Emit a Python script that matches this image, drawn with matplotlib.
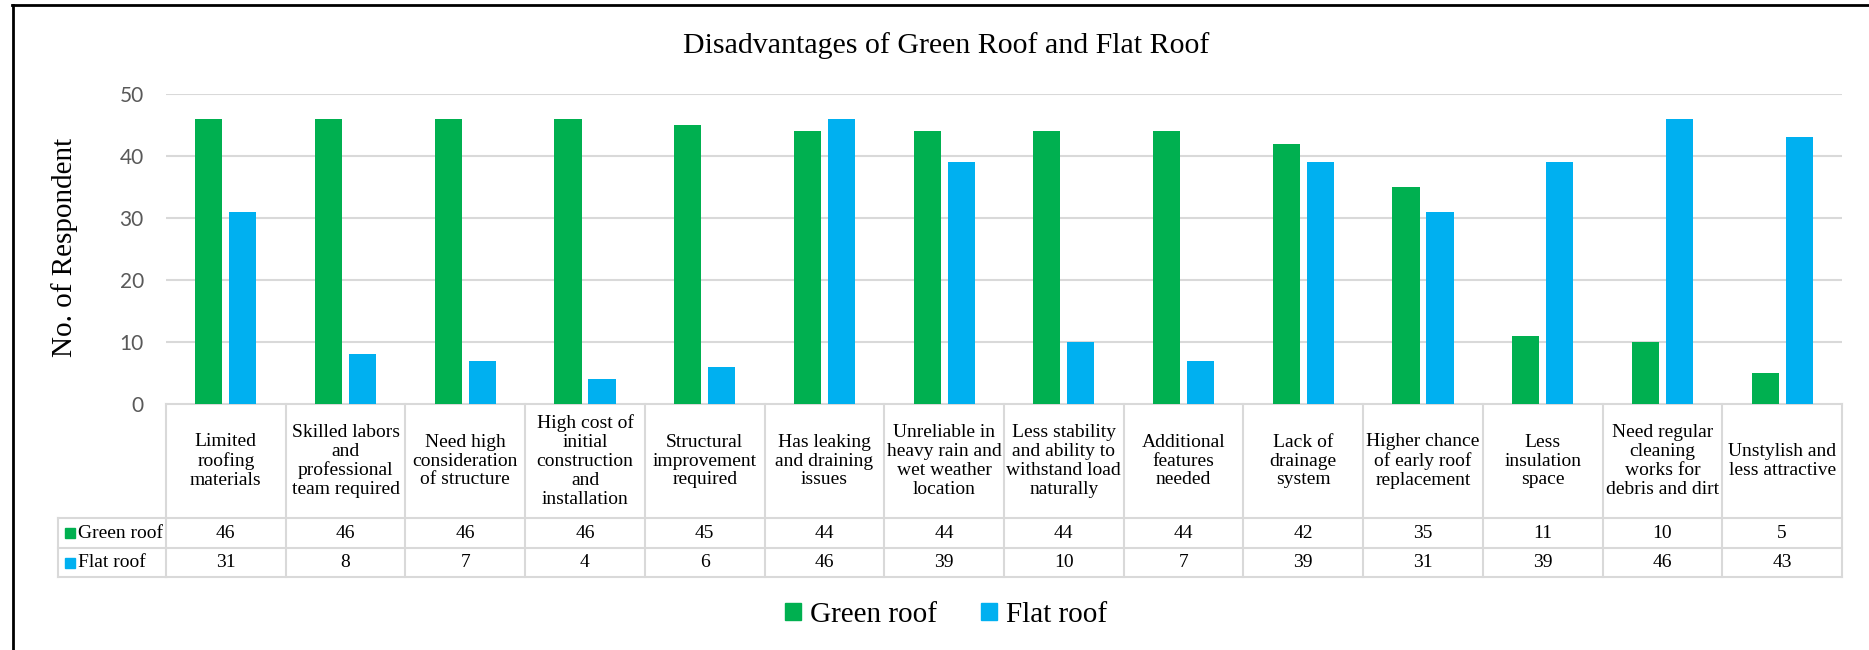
import numpy as np
import matplotlib.pyplot as plt
from matplotlib.lines import Line2D
from matplotlib.patches import Patch
from matplotlib.transforms import blended_transform_factory

categories = [
    "Limited\nroofing\nmaterials",
    "Skilled labors\nand\nprofessional\nteam required",
    "Need high\nconsideration\nof structure",
    "High cost of\ninitial\nconstruction\nand\ninstallation",
    "Structural\nimprovement\nrequired",
    "Has leaking\nand draining\nissues",
    "Unreliable in\nheavy rain and\nwet weather\nlocation",
    "Less stability\nand ability to\nwithstand load\nnaturally",
    "Additional\nfeatures\nneeded",
    "Lack of\ndrainage\nsystem",
    "Higher chance\nof early roof\nreplacement",
    "Less\ninsulation\nspace",
    "Need regular\ncleaning\nworks for\ndebris and dirt",
    "Unstylish and\nless attractive",
]
green_roof = [46, 46, 46, 46, 45, 44, 44, 44, 44, 42, 35, 11, 10, 5]
flat_roof = [31, 8, 7, 4, 6, 46, 39, 10, 7, 39, 31, 39, 46, 43]
series_names = ["Green roof", "Flat roof"]
colors = ["#00B050", "#00B0F0"]

W, H = 1869, 650
serif = ["Liberation Serif", "DejaVu Serif"]
grey_line = "#D9D9D9"

fig = plt.figure(figsize=(W / 100, H / 100), dpi=100)

def fx(px):
    return px / W

def fy(py):
    return 1 - py / H

ax = fig.add_axes([fx(166), fy(404), fx(1842) - fx(166), fy(94) - fy(404)])

n = len(categories)
x = np.arange(n)
bw = 0.226
ax.bar(x - 0.142, green_roof, bw, color=colors[0], zorder=3)
ax.bar(x + 0.142, flat_roof, bw, color=colors[1], zorder=3)

ax.set_xlim(-0.5, n - 0.5)
ax.set_ylim(0, 50)
ax.set_yticks(range(0, 51, 10))
ax.set_xticks([])
for t in range(10, 51, 10):
    ax.axhline(t, color=grey_line, lw=1.5, zorder=1)
for s in ax.spines.values():
    s.set_visible(False)
ax.tick_params(axis="y", length=0, pad=16, labelsize=15, labelcolor="#595959")
for lab in ax.get_yticklabels():
    lab.set_family(["Lato", "DejaVu Sans"])

# data table below the axis
tr = blended_transform_factory(ax.transData, fig.transFigure)
y_top, y_head, y_mid, y_bot = fy(404), fy(518), fy(548), fy(577)
lkw = dict(color=grey_line, lw=1.5, clip_on=False)

ax.plot([-0.5, n - 0.5], [y_top, y_top], transform=tr, **lkw)
for yy in (y_head, y_mid, y_bot):
    fig.add_artist(Line2D([fx(58), fx(166)], [yy, yy], **lkw))
    ax.plot([-0.5, n - 0.5], [yy, yy], transform=tr, **lkw)
fig.add_artist(Line2D([fx(58), fx(58)], [y_head, y_bot], **lkw))
for b in np.arange(-0.5, n, 1.0):
    ax.plot([b, b], [y_top, y_bot], transform=tr, **lkw)

for i in range(n):
    ax.text(i, (y_top + y_head) / 2, categories[i], transform=tr, ha="center",
            va="center", fontsize=14, family=serif, linespacing=1.15)
    ax.text(i, (y_head + y_mid) / 2, str(green_roof[i]), transform=tr,
            ha="center", va="center", fontsize=14, family=serif)
    ax.text(i, (y_mid + y_bot) / 2, str(flat_roof[i]), transform=tr,
            ha="center", va="center", fontsize=14, family=serif)

for name, c, (ya, yb) in zip(series_names, colors, [(y_head, y_mid), (y_mid, y_bot)]):
    yc = (ya + yb) / 2
    fig.add_artist(plt.Rectangle((fx(65), yc - 5 / H), 10 / W, 10 / H,
                                 color=c, transform=fig.transFigure))
    fig.text(fx(78), yc, name, ha="left", va="center", fontsize=14, family=serif)

fig.text(fx(946), fy(46), "Disadvantages of Green Roof and Flat Roof",
         ha="center", va="center", fontsize=21.5, family=serif)
fig.text(fx(65), fy(247), "No. of Respondent", rotation=90, ha="center",
         va="center", fontsize=21, family=serif)

handles = [Patch(color=c, label=s) for s, c in zip(series_names, colors)]
fig.legend(handles=handles, loc="center", bbox_to_anchor=(fx(946), fy(615)),
           ncol=2, frameon=False, prop={"family": serif, "size": 21},
           handlelength=0.55, handleheight=0.55, handletextpad=0.3,
           columnspacing=1.5)

# outer frame (top and left edge)
fig.add_artist(Line2D([fx(12), 1], [fy(5), fy(5)], color="black", lw=2))
fig.add_artist(Line2D([fx(13), fx(13)], [fy(5), 0], color="black", lw=2))

fig.savefig("out.png", dpi=100)
